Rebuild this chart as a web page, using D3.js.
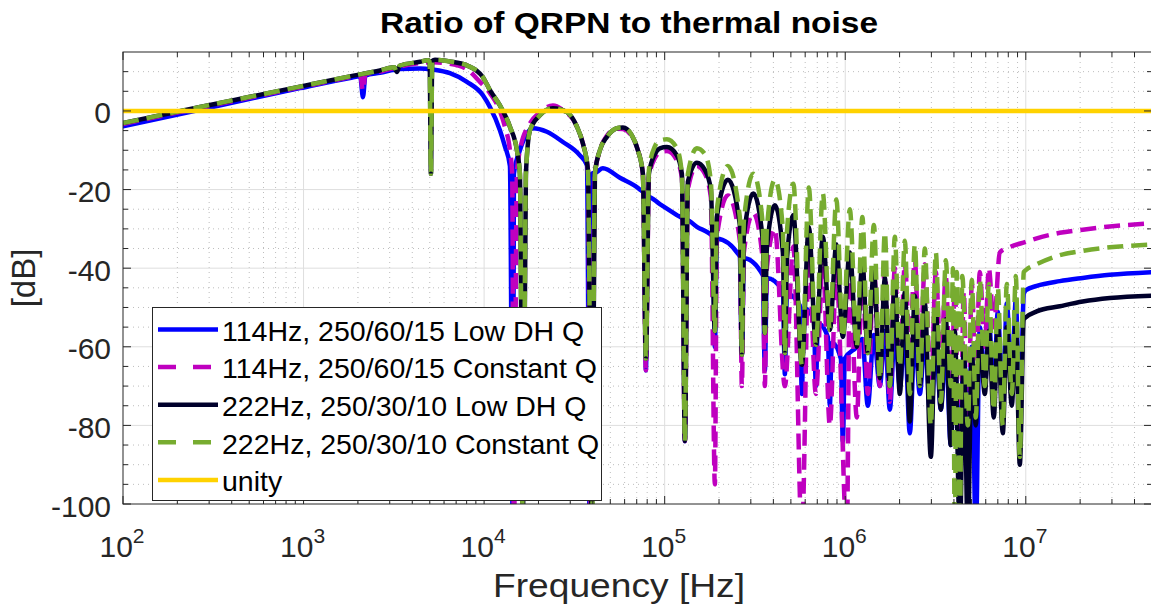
<!DOCTYPE html>
<html><head><meta charset="utf-8">
<script src="https://cdn.jsdelivr.net/npm/d3@7"></script>
<style>body{margin:0;background:#fff;}svg{display:block;font-family:"Liberation Sans",Arial,Helvetica,sans-serif;}</style>
</head><body><svg id="chart" width="1151" height="608"></svg>
<script>
// ---------------- data ----------------
const xTickValues = [1e2, 1e3, 1e4, 1e5, 1e6, 1e7];
const xTickExponents = ["2", "3", "4", "5", "6", "7"];
const yTickValues = [0, -20, -40, -60, -80, -100];
const seriesLabels = ["114Hz, 250/60/15 Low DH Q", "114Hz, 250/60/15 Constant Q", "222Hz, 250/30/10 Low DH Q", "222Hz, 250/30/10 Constant Q", "unity"];

// [frequency Hz, dB]
const blue114LowDH = [
[100,-3.9],[267,0.3],[505,3.1],[955,5.8],[1807,8.4],[2060,8.8],[2133,3.5],[2200,9.0],[2649,9.7],[3419,10.7],[4411,10.8],[5206,10.5],[6465,9.6],[8031,7.4],[9848,4],[10770,1],[12232,-4.9],[13036,-9],[13898,-14],[14436,-108],[14622,-16],[15784,-10],[17040,-6.2],[18636,-4.4],[22275,-5.3],[27316,-7.9],[33922,-11.3],[37091,-13.8],[38535,-108],[39535,-16],[42145,-15.5],[45490,-14.6],[56494,-17],[72910,-20],[76700,-21],[78724,-66],[80800,-21.8],[94041,-23.7],[116820,-26.5],[126100,-27.5],[129390,-84],[132700,-27.8],[150780,-29.5],[184900,-32],[189670,-60],[194600,-32.5],[260800,-37],[267600,-62],[274500,-37.5],[349600,-41.8],[358700,-66],[368000,-42.5],[451400,-45.8],[463100,-67],[475100,-46.5],[560700,-49.5],[575200,-72],[590100,-50.2],[670200,-53],[687600,-70],[705400,-54],[801100,-57.5],[821900,-75],[843200,-59],[945400,-63],[969900,-84],[995000,-63],[1159000,-60],[1244000,-58],[1334000,-75],[1440000,-57],[1555000,-70],[1657000,-56],[1766000,-76],[1882000,-56],[2006000,-70],[2138000,-57],[2279000,-82],[2429000,-57],[2589000,-72],[2759000,-58],[2979000,-80],[3175000,-58],[3384000,-76],[3606000,-60],[3843000,-85],[4044000,-62],[4311000,-90],[4536000,-60],[4774000,-85],[5023000,-60],[5286000,-108],[5563000,-55],[5931000,-70],[6241000,-53],[6651000,-72],[6998000,-51],[7459000,-75],[7849000,-49],[8365000,-70],[8803000,-48],[9265000,-80],[9748000,-46.5],[10000000,-45.6],[11500000,-44.5],[15430000,-43.3],[20680000,-42.5],[29180000,-41.7],[50000000,-41]
];
const magenta114Const = [
[100,-3.3],[267,0.8],[505,3.4],[955,6.0],[1807,8.6],[2060,9.1],[2133,5.2],[2200,9.3],[2649,10.0],[3419,11.3],[4411,12.2],[5206,12.4],[6465,12.0],[8031,10.6],[9479,7.4],[10770,4.5],[12232,0],[13036,-4],[13898,-10],[14300,-16],[14622,-108],[15190,-16],[15784,-10],[17934,-3.2],[20372,-0.3],[24044,1.4],[27316,0.2],[32650,-4],[35244,-8.3],[37567,-15],[39000,-108],[41080,-16],[43779,-10],[47863,-6.3],[54370,-4.5],[58695,-4.6],[65815,-6.5],[71055,-10],[75727,-16],[78724,-66],[81788,-17],[88252,-12],[94041,-10.5],[102850,-10.2],[116820,-12.5],[124540,-17],[129390,-84],[134420,-20],[150780,-14],[167000,-16],[180250,-22],[189670,-95],[194600,-32],[223900,-21.5],[260800,-33],[267600,-70],[274500,-36],[309800,-26],[349600,-38],[358700,-70],[368000,-40],[407600,-30],[463100,-70],[516000,-34.5],[575200,-108],[628600,-37],[687600,-72],[751600,-39],[821900,-80],[892600,-41],[1021000,-108],[1060000,-40],[1159000,-78],[1244000,-39],[1334000,-72],[1440000,-40],[1555000,-70],[1657000,-40],[1766000,-74],[1882000,-40],[2006000,-68],[2138000,-39],[2279000,-60],[2429000,-38],[2589000,-66],[2759000,-39],[2979000,-72],[3175000,-41],[3384000,-64],[3606000,-42],[3843000,-80],[4044000,-45],[4311000,-100],[4536000,-46],[4774000,-90],[5023000,-44],[5286000,-70],[5563000,-41],[5931000,-60],[6241000,-40],[6651000,-55],[7179000,-36],[8000000,-34.8],[10000000,-33.3],[11500000,-32.4],[15430000,-31],[20680000,-30.2],[29180000,-29.4],[50000000,-28.6]
];
const navy222LowDH = [
[100,-3.1],[267,1.0],[505,3.6],[955,6.2],[1807,8.8],[2649,10.3],[3180,11.1],[3290,9.9],[3400,11.5],[4411,12.5],[4885,12.9],[4990,12.6],[5075,-16],[5160,12.7],[5341,13.0],[6465,12.6],[8031,11.6],[9848,8.6],[10770,5.3],[12232,1.4],[13898,-4],[15190,-10],[15784,-16],[16401,-108],[17040,-16],[17934,-5],[20372,-1.1],[24044,0.7],[28735,-0.3],[32650,-4],[35244,-8.3],[37567,-15],[39535,-108],[41080,-16],[43779,-10],[47863,-6.6],[54370,-4.4],[58695,-4.2],[65815,-6.2],[71055,-10],[75727,-16],[78724,-63],[81788,-16],[88252,-11],[94041,-9.5],[102850,-9.2],[116820,-11.3],[124540,-16],[129390,-84],[134420,-18],[150780,-13.2],[167000,-15],[180250,-20],[189670,-56],[194600,-27],[223900,-17.5],[260800,-29],[267600,-62],[274500,-32],[309800,-21],[349600,-33],[358700,-56.5],[368000,-35],[407600,-24],[451400,-36],[463100,-61.6],[475100,-38],[516000,-26.5],[575200,-64.6],[628600,-29.5],[687600,-59.5],[751600,-32],[821900,-55.7],[892600,-34],[969900,-57.5],[1060000,-36],[1159000,-60],[1244000,-38.5],[1334000,-61.6],[1440000,-41],[1555000,-68],[1657000,-42.5],[1766000,-70],[1882000,-44],[2006000,-72],[2138000,-46],[2279000,-79],[2429000,-47],[2589000,-70],[2759000,-49],[2979000,-88],[3175000,-51],[3384000,-76],[3606000,-53],[3843000,-85],[4044000,-56],[4311000,-108],[4536000,-60],[4774000,-108],[5023000,-62],[5286000,-80],[5563000,-58],[5931000,-72],[6241000,-56],[6651000,-78],[6998000,-55],[7459000,-82],[7849000,-55],[8365000,-75],[8803000,-54],[9265000,-90],[9748000,-53],[10000000,-52.5],[11500000,-51],[15430000,-49.7],[20680000,-48.5],[29180000,-47.6],[50000000,-47]
];
const green222Const = [
[100,-3.1],[267,1.0],[505,3.6],[955,6.2],[1807,8.8],[2649,10.3],[3180,11.1],[3290,9.9],[3400,11.5],[4411,12.5],[4885,12.9],[4990,12.6],[5075,-16],[5160,12.7],[5341,13.0],[6465,12.6],[8031,11.6],[9848,8.6],[10770,5.3],[12232,1.4],[13898,-4],[15190,-10],[15784,-16],[16401,-108],[17040,-16],[17934,-5],[20372,-1.1],[24044,0.7],[28735,-0.3],[32650,-4],[35244,-8.3],[37567,-15],[39535,-108],[41080,-16],[43779,-10],[47863,-6.6],[54370,-4.4],[58695,-4.2],[65815,-6.2],[71055,-10],[75727,-16],[78724,-63],[81788,-15],[88252,-9],[94041,-7.5],[102850,-7.2],[116820,-9.5],[124540,-16],[129390,-84],[134420,-16],[150780,-9.5],[167000,-11],[180250,-18],[189670,-56],[194600,-25],[223900,-14],[260800,-27],[267600,-62],[274500,-28],[309800,-16],[349600,-29],[358700,-56.5],[368000,-30],[407600,-17.5],[451400,-30],[463100,-61.6],[475100,-31],[516000,-18.5],[575200,-64.6],[628600,-19.5],[687600,-59.5],[751600,-21],[821900,-55.7],[892600,-22.5],[969900,-57.5],[1060000,-25],[1159000,-60],[1244000,-27],[1334000,-61.6],[1440000,-29],[1555000,-68],[1657000,-31],[1766000,-70],[1882000,-32],[2006000,-65],[2138000,-33],[2279000,-72],[2429000,-34],[2589000,-70],[2759000,-35],[2979000,-80],[3175000,-36],[3384000,-74],[3606000,-38],[3843000,-70],[3950000,-40],[4044000,-108],[4150000,-41],[4311000,-108],[4450000,-42],[4774000,-80],[5023000,-43],[5286000,-78],[5563000,-43],[5931000,-70],[6241000,-44],[6651000,-76],[6998000,-45],[7459000,-80],[7849000,-44],[8365000,-72],[8803000,-42],[9265000,-88],[9748000,-41],[10000000,-40.5],[11500000,-39],[15430000,-36.7],[20680000,-35.6],[29180000,-34.7],[50000000,-34]
];
const unityLine = [[100, 0], [50000000, 0]];

// ---------------- drawing ----------------
const plot = {left: 123, right: 1152, top: 52, bottom: 504};
const svg = d3.select("#chart");
const x = d3.scaleLog().domain([100, 5e7]).range([plot.left, plot.right]);
const y = d3.scaleLinear().domain([-100, 15]).range([plot.bottom, plot.top]);

svg.append("defs").append("clipPath").attr("id", "clip")
  .append("rect").attr("x", plot.left).attr("y", plot.top)
  .attr("width", plot.right - plot.left).attr("height", plot.bottom - plot.top);

// minor grid
const minorX = [];
for (let k = 2; k <= 7; k++) for (let m = 2; m <= 9; m++) { const v = m * Math.pow(10, k); if (v < 5e7) minorX.push(v); }
const minorY = d3.range(-95, 15, 5).filter(v => v % 20 !== 0);
const grid = svg.append("g");
grid.selectAll(".mx").data(minorX).join("line")
  .attr("x1", d => x(d)).attr("x2", d => x(d)).attr("y1", plot.top).attr("y2", plot.bottom)
  .attr("stroke", "#bdbdbd").attr("stroke-width", 1).attr("stroke-dasharray", "1,4");
grid.selectAll(".my").data(minorY).join("line")
  .attr("y1", d => y(d)).attr("y2", d => y(d)).attr("x1", plot.left).attr("x2", plot.right)
  .attr("stroke", "#bdbdbd").attr("stroke-width", 1).attr("stroke-dasharray", "1,4");
// major grid
grid.selectAll(".gx").data(xTickValues.slice(1)).join("line")
  .attr("x1", d => x(d)).attr("x2", d => x(d)).attr("y1", plot.top).attr("y2", plot.bottom)
  .attr("stroke", "#dedede").attr("stroke-width", 1);
grid.selectAll(".gy").data(yTickValues.slice(0, 5)).join("line")
  .attr("y1", d => y(d)).attr("y2", d => y(d)).attr("x1", plot.left).attr("x2", plot.right)
  .attr("stroke", "#dedede").attr("stroke-width", 1);

// series
const series = [
  {data: blue114LowDH, color: "#0000ff", dash: null},
  {data: magenta114Const, color: "#bf00bf", dash: "16,8"},
  {data: navy222LowDH, color: "#00002b", dash: null},
  {data: green222Const, color: "#77ac30", dash: "16,8"},
  {data: unityLine, color: "#ffd200", dash: null}
];
const line = d3.line().x(d => x(d[0])).y(d => y(d[1])).curve(d3.curveMonotoneX);
const lines = svg.append("g").attr("clip-path", "url(#clip)");
series.forEach(s => {
  lines.append("path").attr("d", line(s.data)).attr("fill", "none")
    .attr("stroke", s.color).attr("stroke-width", 4.5)
    .attr("stroke-linejoin", "round").attr("stroke-linecap", s.dash ? "butt" : "round")
    .attr("stroke-dasharray", s.dash);
});

// axes box and ticks
const axc = "#262626";
const ax = svg.append("g");
ax.append("rect").attr("x", plot.left).attr("y", plot.top).attr("width", plot.right - plot.left)
  .attr("height", plot.bottom - plot.top).attr("fill", "none").attr("stroke", axc).attr("stroke-width", 1);
[[xTickValues, 8], [minorX, 5]].forEach(([vals, len]) => {
  vals.forEach(v => {
    ax.append("line").attr("x1", x(v)).attr("x2", x(v)).attr("y1", plot.bottom).attr("y2", plot.bottom - len).attr("stroke", axc);
    ax.append("line").attr("x1", x(v)).attr("x2", x(v)).attr("y1", plot.top).attr("y2", plot.top + len).attr("stroke", axc);
  });
});
[[yTickValues, 8], [minorY, 5]].forEach(([vals, len]) => {
  vals.forEach(v => {
    ax.append("line").attr("y1", y(v)).attr("y2", y(v)).attr("x1", plot.left).attr("x2", plot.left + len).attr("stroke", axc);
    ax.append("line").attr("y1", y(v)).attr("y2", y(v)).attr("x1", plot.right).attr("x2", plot.right - len).attr("stroke", axc);
  });
});

// tick labels
const xl = svg.append("g").attr("fill", "#262626").attr("font-size", 30).attr("text-anchor", "middle");
xTickValues.forEach((v, i) => {
  const t = xl.append("text").attr("x", x(v) - 1).attr("y", 557);
  t.append("tspan").text("10");
  t.append("tspan").attr("dy", -14).attr("font-size", 21).text(xTickExponents[i]);
});
const yl = svg.append("g").attr("fill", "#262626").attr("font-size", 30).attr("text-anchor", "end");
yTickValues.forEach(v => {
  yl.append("text").attr("x", 111).attr("y", y(v) + 12.5).text(v);
});

// axis labels and title
svg.append("text").attr("x", 619).attr("y", 597).attr("text-anchor", "middle")
  .attr("font-size", 33).attr("fill", "#262626").attr("textLength", 252).attr("lengthAdjust", "spacingAndGlyphs")
  .text("Frequency [Hz]");
svg.append("text").attr("transform", "translate(35,278) rotate(-90)").attr("text-anchor", "middle")
  .attr("font-size", 33).attr("fill", "#262626").text("[dB]");
svg.append("text").attr("x", 629).attr("y", 33).attr("text-anchor", "middle")
  .attr("font-size", 30).attr("font-weight", "bold").attr("fill", "#000")
  .attr("textLength", 498).attr("lengthAdjust", "spacingAndGlyphs")
  .text("Ratio of QRPN to thermal noise");

// legend
const lg = svg.append("g");
lg.append("rect").attr("x", 152.5).attr("y", 307.5).attr("width", 449).attr("height", 193)
  .attr("fill", "#fff").attr("stroke", axc).attr("stroke-width", 1);
series.forEach((s, i) => {
  const cy = 329.5 + i * 37.6;
  lg.append("line").attr("x1", 158).attr("x2", s.dash ? 211 : 218).attr("y1", cy).attr("y2", cy)
    .attr("stroke", s.color).attr("stroke-width", 4.5).attr("stroke-dasharray", s.dash ? "18,17" : null);
  lg.append("text").attr("x", 222).attr("y", cy + 11.2).attr("font-size", 28.5).attr("fill", "#000").text(seriesLabels[i]);
});
</script></body></html>
